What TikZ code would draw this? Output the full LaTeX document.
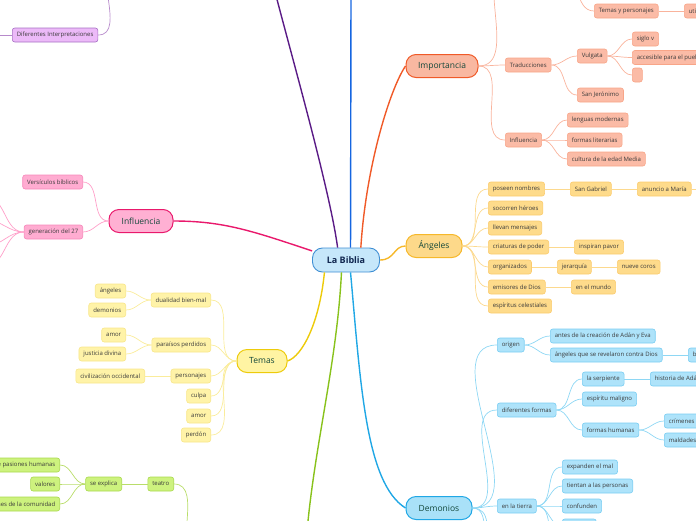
\documentclass[tikz,border=0pt]{standalone}
\usepackage{fontspec}
\setmainfont{Open Sans}
\definecolor{subtext}{HTML}{3A3A3A}
\definecolor{topictext}{HTML}{12473A}
\definecolor{bibfill}{HTML}{C6E7FA}
\definecolor{bibdraw}{HTML}{3F8FD4}
\definecolor{bibtext}{HTML}{10264F}
\definecolor{impfill}{HTML}{F9B8A1}
\definecolor{impdraw}{HTML}{F05A28}
\definecolor{impsubfill}{HTML}{FBBBA6}
\definecolor{impsubdraw}{HTML}{F8A588}
\definecolor{impline}{HTML}{F9B39C}
\definecolor{angfill}{HTML}{FDD98A}
\definecolor{angdraw}{HTML}{F6B82A}
\definecolor{angsubfill}{HTML}{FEDB8B}
\definecolor{angsubdraw}{HTML}{FBCB6E}
\definecolor{angline}{HTML}{FCD98E}
\definecolor{demfill}{HTML}{A9E1F8}
\definecolor{demdraw}{HTML}{20A7E5}
\definecolor{demsubfill}{HTML}{AEE3FA}
\definecolor{demsubdraw}{HTML}{79CDF2}
\definecolor{demline}{HTML}{8ED7F4}
\definecolor{inffill}{HTML}{FFB0D3}
\definecolor{infdraw}{HTML}{E9196C}
\definecolor{infsubfill}{HTML}{FFACD1}
\definecolor{infsubdraw}{HTML}{F688BA}
\definecolor{infline}{HTML}{FF9FC9}
\definecolor{temfill}{HTML}{FFF4A3}
\definecolor{temdraw}{HTML}{EDCB0B}
\definecolor{temsubfill}{HTML}{FFF3A8}
\definecolor{temsubdraw}{HTML}{F8E68A}
\definecolor{temline}{HTML}{FAEC9B}
\definecolor{grnmain}{HTML}{88C21B}
\definecolor{grnsubfill}{HTML}{CDF27E}
\definecolor{grnsubdraw}{HTML}{A9D94D}
\definecolor{grnline}{HTML}{B9DD6A}
\definecolor{purmain}{HTML}{5A1B86}
\definecolor{pursubfill}{HTML}{ECBAF8}
\definecolor{pursubdraw}{HTML}{A670C4}
\definecolor{purline}{HTML}{B78ACB}
\definecolor{bluemain}{HTML}{1565E0}
\begin{document}
\begin{tikzpicture}[x=1pt,y=-1pt,
  sub/.style={draw, rounded corners=2.5pt, line width=0.6pt, inner xsep=4.5pt, inner ysep=0pt,
    minimum height=14pt, font=\fontsize{6}{7}\selectfont, text=subtext},
  topic/.style={draw, rounded corners=10pt, line width=1pt, inner ysep=0pt,
    minimum height=23pt, font=\fontsize{8.5}{10}\selectfont, text=topictext},
  link/.style={line width=0.7pt},
  branch/.style={line width=1.4pt},
  impbox/.style={sub, fill=impsubfill, draw=impsubdraw},
  angbox/.style={sub, fill=angsubfill, draw=angsubdraw},
  dembox/.style={sub, fill=demsubfill, draw=demsubdraw},
  infbox/.style={sub, fill=infsubfill, draw=infsubdraw},
  tembox/.style={sub, fill=temsubfill, draw=temsubdraw},
  grnbox/.style={sub, fill=grnsubfill, draw=grnsubdraw},
  purbox/.style={sub, fill=pursubfill, draw=pursubdraw}]
\useasboundingbox (0,0) rectangle (696,520);
\clip (0,0) rectangle (696,520);

% central node and main topics
\node[draw=bibdraw, fill=bibfill, rounded corners=10pt, line width=0.9pt, minimum width=67pt,
  minimum height=24pt, font=\fontsize{9}{11}\selectfont\bfseries, text=bibtext] (biblia) at (346,260) {La Biblia};
\node[topic, fill=impfill, draw=impdraw, minimum width=72pt] (importancia) at (442,66) {Importancia};
\node[topic, fill=angfill, draw=angdraw, minimum width=56pt] (angeles) at (434,246) {Ángeles};
\node[topic, fill=demfill, draw=demdraw, minimum width=66pt] (demonios) at (439,508) {Demonios};
\node[topic, fill=inffill, draw=infdraw, minimum width=64pt] (influencia) at (141,221) {Influencia};
\node[topic, fill=temfill, draw=temdraw, minimum width=50pt] (temas) at (262,361) {Temas};
\coordinate (purpletop) at (272,-20);
\coordinate (bluetop) at (351,-10);
\coordinate (greenbot) at (305,560);

\draw[branch, purmain] (biblia.124) .. controls +(-8,-60) and +(15,60) .. (purpletop);
\draw[branch, bluemain] (biblia.70) -- (bluetop);
\draw[branch, impdraw] (biblia.40) .. controls +(5,-80) and +(-16,24) .. (importancia.west);
\draw[branch, angdraw] (biblia.east) .. controls +(15,0) and +(-12,0) .. (angeles.west);
\draw[branch, demdraw] (biblia.-70) .. controls +(10,110) and +(-40,-25) .. (demonios.west);
\draw[branch, grnmain] (biblia.-110) .. controls +(-5,100) and +(5,-100) .. (greenbot);
\draw[branch, temdraw] (biblia.-150) .. controls +(-5,50) and +(15,-5) .. (temas.east);
\draw[branch, infdraw] (influencia.east) .. controls +(50,0) and +(-60,-20) .. (biblia.165);

% Importancia
\node[impbox, anchor=west] (traducciones) at (505,65) {Traducciones};
\node[impbox, anchor=west] (impinfl) at (505,140) {Influencia};
\node[impbox, anchor=west] (vulgata) at (577,56) {Vulgata};
\node[impbox, anchor=west] (jeronimo) at (577,95) {San Jerónimo};
\node[impbox, anchor=west] (siglo) at (632,39) {siglo v};
\node[impbox, anchor=west] (accesible) at (632,57.5) {accesible para el pueblo};
\node[impbox, anchor=west, minimum width=10pt] (vacio) at (632,75) {};
\node[impbox, anchor=west] (lenguas) at (567,120) {lenguas modernas};
\node[impbox, anchor=west] (formas) at (567,140) {formas literarias};
\node[impbox, anchor=west] (cultura) at (567,159) {cultura de la edad Media};
\node[impbox, anchor=west] (temaspers) at (594,11) {Temas y personajes};
\node[impbox, anchor=west] (utilizados) at (684,11) {utilizados};
\coordinate (impup) at (512,-40);
\coordinate (temasparent) at (560,-30);
\draw[link, impline] (importancia.east) to[out=0,in=180] (impup);
\draw[link, impline] (importancia.east) to[out=0,in=180] (traducciones.west);
\draw[link, impline] (importancia.east) to[out=0,in=180] (impinfl.west);
\draw[link, impline] (traducciones.east) to[out=0,in=180] (vulgata.west);
\draw[link, impline] (traducciones.east) to[out=0,in=180] (jeronimo.west);
\draw[link, impline] (vulgata.east) to[out=0,in=180] (siglo.west);
\draw[link, impline] (vulgata.east) to[out=0,in=180] (accesible.west);
\draw[link, impline] (vulgata.east) to[out=0,in=180] (vacio.west);
\draw[link, impline] (impinfl.east) to[out=0,in=180] (lenguas.west);
\draw[link, impline] (impinfl.east) to[out=0,in=180] (formas.west);
\draw[link, impline] (impinfl.east) to[out=0,in=180] (cultura.west);
\draw[link, impline] (temasparent) to[out=0,in=180] (temaspers.west);
\draw[link, impline] (temaspers.east) -- (utilizados.west);

% Angeles
\node[angbox, anchor=west] (nombres) at (488,189) {poseen nombres};
\node[angbox, anchor=west] (socorren) at (488,208) {socorren héroes};
\node[angbox, anchor=west] (llevan) at (488,228) {llevan mensajes};
\node[angbox, anchor=west] (criaturas) at (488,247) {criaturas de poder};
\node[angbox, anchor=west] (organizados) at (488,267) {organizados};
\node[angbox, anchor=west] (emisores) at (488,287) {emisores de Dios};
\node[angbox, anchor=west] (espiritus) at (488,306) {espíritus celestiales};
\node[angbox, anchor=west] (gabriel) at (570,189) {San Gabriel};
\node[angbox, anchor=west] (anuncio) at (637,189) {anuncio a María};
\node[angbox, anchor=west] (pavor) at (574,247) {inspiran pavor};
\node[angbox, anchor=west] (jerarquia) at (557,267) {jerarquía};
\node[angbox, anchor=west] (coros) at (617,267) {nueve coros};
\node[angbox, anchor=west] (mundo) at (571,287) {en el mundo};
\coordinate (anuncioout) at (720,189);
\foreach \n in {nombres,socorren,llevan,criaturas,organizados,emisores,espiritus}
  \draw[link, angline] (angeles.east) to[out=0,in=180] (\n.west);
\draw[link, angline] (nombres.east) -- (gabriel.west);
\draw[link, angline] (gabriel.east) -- (anuncio.west);
\draw[link, angline] (anuncio.east) -- (anuncioout);
\draw[link, angline] (criaturas.east) -- (pavor.west);
\draw[link, angline] (organizados.east) -- (jerarquia.west);
\draw[link, angline] (jerarquia.east) -- (coros.west);
\draw[link, angline] (emisores.east) -- (mundo.west);

% Demonios
\node[dembox, anchor=west] (origen) at (497,345) {origen};
\node[dembox, anchor=west] (difformas) at (497,410) {diferentes formas};
\node[dembox, anchor=west] (tierra) at (497,506) {en la tierra};
\node[dembox, anchor=west] (antes) at (550,336) {antes de la creación de Adán y Eva};
\node[dembox, anchor=west] (rebeldes) at (550,355) {ángeles que se revelaron contra Dios};
\node[dembox, anchor=west] (bajo) at (688,355) {bajo Lucifer};
\node[dembox, anchor=west] (serpiente) at (582,379) {la serpiente};
\node[dembox, anchor=west] (historia) at (650,379) {historia de Adán y Eva};
\node[dembox, anchor=west] (maligno) at (582,399) {espíritu maligno};
\node[dembox, anchor=west] (humanas) at (582,430) {formas humanas};
\node[dembox, anchor=west] (crimenes) at (664,421) {crímenes};
\node[dembox, anchor=west] (maldades) at (664,440) {maldades};
\node[dembox, anchor=west] (expanden) at (562,467) {expanden el mal};
\node[dembox, anchor=west] (tientan) at (562,486) {tientan a las personas};
\node[dembox, anchor=west] (confunden) at (562,506) {confunden};
\node[dembox, anchor=west, minimum width=34pt] (cuarto) at (562,526) {};
\coordinate (demdown1) at (497,560);
\coordinate (demdown2) at (497,600);
\coordinate (tierramore) at (562,548);
\draw[link, demline] (demonios.east) to[out=0,in=180] (origen.west);
\draw[link, demline] (demonios.east) to[out=0,in=180] (difformas.west);
\draw[link, demline] (demonios.east) to[out=0,in=180] (tierra.west);
\draw[link, demline] (demonios.east) to[out=0,in=180] (demdown1);
\draw[link, demline] (demonios.east) to[out=0,in=180] (demdown2);
\draw[link, demline] (origen.east) to[out=0,in=180] (antes.west);
\draw[link, demline] (origen.east) to[out=0,in=180] (rebeldes.west);
\draw[link, demline] (rebeldes.east) -- (bajo.west);
\draw[link, demline] (difformas.east) to[out=0,in=180] (serpiente.west);
\draw[link, demline] (difformas.east) to[out=0,in=180] (maligno.west);
\draw[link, demline] (difformas.east) to[out=0,in=180] (humanas.west);
\draw[link, demline] (serpiente.east) -- (historia.west);
\draw[link, demline] (humanas.east) to[out=0,in=180] (crimenes.west);
\draw[link, demline] (humanas.east) to[out=0,in=180] (maldades.west);
\foreach \n in {expanden,tientan,confunden,cuarto,tierramore}
  \draw[link, demline] (tierra.east) to[out=0,in=180] (\n);

% Influencia
\node[infbox, anchor=east] (versiculos) at (83,182) {Versículos bíblicos};
\node[infbox, anchor=east] (generacion) at (83,232) {generación del 27};
\draw[link, infline] (influencia.west) to[out=180,in=0] (versiculos.east);
\draw[link, infline] (influencia.west) to[out=180,in=0] (generacion.east);
\foreach \y in {197,220,246,266}
  \draw[link, infline] (generacion.west) to[out=180,in=0] (-14,\y);

% Temas
\node[tembox, anchor=east] (dualidad) at (211,300) {dualidad bien-mal};
\node[tembox, anchor=east] (paraisos) at (211,345) {paraísos perdidos};
\node[tembox, anchor=east] (personajes) at (211,376) {personajes};
\node[tembox, anchor=east] (culpa) at (211,396) {culpa};
\node[tembox, anchor=east] (amortema) at (211,416) {amor};
\node[tembox, anchor=east] (perdon) at (211,435) {perdón};
\node[tembox, anchor=east] (angelesd) at (126,291) {ángeles};
\node[tembox, anchor=east] (demoniosd) at (126,310) {demonios};
\node[tembox, anchor=east] (amorp) at (126,335) {amor};
\node[tembox, anchor=east] (justicia) at (126,354) {justicia divina};
\node[tembox, anchor=east] (civilizacion) at (145,376) {civilización occidental};
\foreach \n in {dualidad,paraisos,personajes,culpa,amortema,perdon}
  \draw[link, temline] (temas.west) to[out=180,in=0] (\n.east);
\draw[link, temline] (dualidad.west) to[out=180,in=0] (angelesd.east);
\draw[link, temline] (dualidad.west) to[out=180,in=0] (demoniosd.east);
\draw[link, temline] (paraisos.west) to[out=180,in=0] (amorp.east);
\draw[link, temline] (paraisos.west) to[out=180,in=0] (justicia.east);
\draw[link, temline] (personajes.west) -- (civilizacion.east);

% rama verde
\node[grnbox, anchor=east] (teatro) at (174,484) {teatro};
\node[grnbox, anchor=east] (explica) at (122,484) {se explica};
\node[grnbox, anchor=east] (pasiones) at (60,465) {de pasiones humanas};
\node[grnbox, anchor=east] (valores) at (60,484) {valores};
\node[grnbox, anchor=east] (comunidad) at (60,504) {tradiciones de la comunidad};
\coordinate (greenparent) at (200,560);
\draw[link, grnline] (greenparent) to[out=180,in=0] (teatro.east);
\draw[link, grnline] (teatro.west) -- (explica.east);
\foreach \n in {pasiones,valores,comunidad}
  \draw[link, grnline] (explica.west) to[out=180,in=0] (\n.east);

% rama morada
\node[purbox, anchor=west] (interpretaciones) at (12,35) {Diferentes Interpretaciones};
\coordinate (purpleparent) at (118,-40);
\coordinate (interpout) at (-20,35);
\draw[link, purline] (purpleparent) to[out=180,in=0] (interpretaciones.east);
\draw[link, purline] (interpretaciones.west) -- (interpout);
\end{tikzpicture}
\end{document}
